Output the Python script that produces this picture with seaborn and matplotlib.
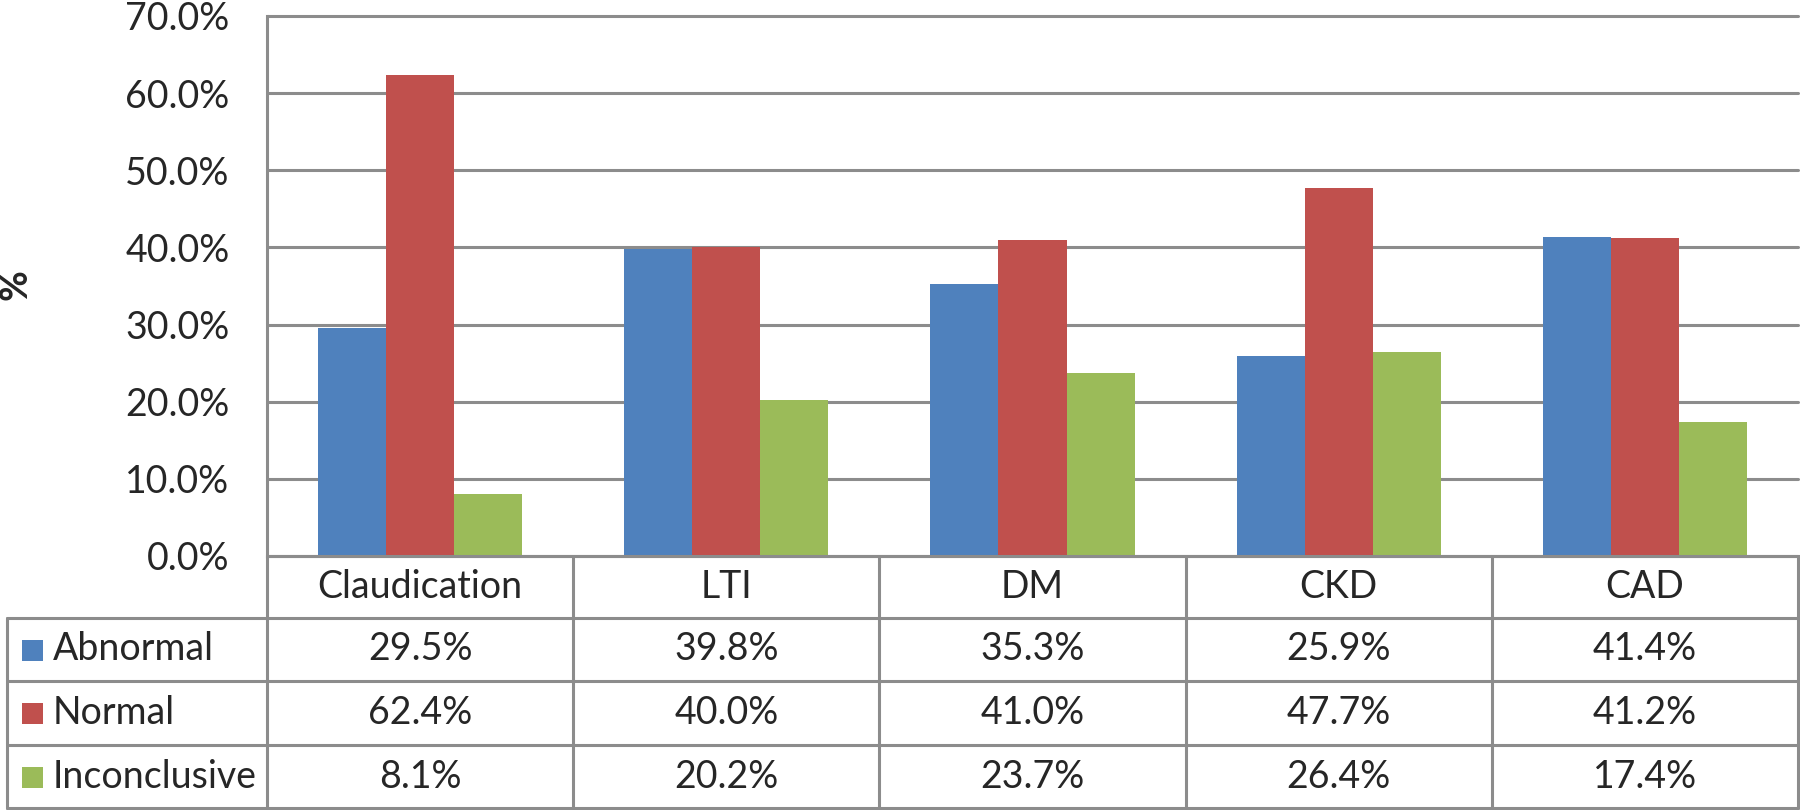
import pandas as pd
import matplotlib
matplotlib.use("Agg")
import matplotlib.pyplot as plt
import matplotlib.transforms as mtransforms
from matplotlib.lines import Line2D
from matplotlib.patches import Rectangle
import seaborn as sns

categories = ["Claudication", "LTI", "DM", "CKD", "CAD"]
series_names = ["Abnormal", "Normal", "Inconclusive"]
abnormal = [29.5, 39.8, 35.3, 25.9, 41.4]
normal = [62.4, 40.0, 41.0, 47.7, 41.2]
inconclusive = [8.1, 20.2, 23.7, 26.4, 17.4]
y_ticks = [0, 10, 20, 30, 40, 50, 60, 70]

colors = ["#4F81BD", "#C0504D", "#9BBB59"]
grid_col = "#8c8c8c"
fs = 27

sns.set_style("white")
plt.rcParams["font.family"] = ["Lato", "DejaVu Sans"]

df = pd.DataFrame({
    "category": categories * 3,
    "series": [s for s in series_names for _ in categories],
    "value": abnormal + normal + inconclusive,
})

W, H = 1800, 810
fig = plt.figure(figsize=(18, 8.1), dpi=100)

def fx(px):
    return px / W

def fy(py):
    return 1 - py / H

# plot area in pixels: left 267, right 1798, top 16 (70%), bottom 556 (0%)
ax = fig.add_axes([fx(267), fy(556), fx(1798 - 267), (556 - 16) / H])

sns.barplot(data=df, x="category", y="value", hue="series", order=categories,
            hue_order=series_names, palette=colors, saturation=1,
            width=2 / 3, gap=0, legend=False, linewidth=0, ax=ax)

ax.set_xlim(-0.5, len(categories) - 0.5)
ax.set_ylim(0, 70)
ax.set_yticks(y_ticks)
ax.set_yticklabels([f"{v:.1f}%" for v in y_ticks], fontsize=fs)
ax.set_xticks([])
ax.set_xlabel("")
ax.set_ylabel("")
ax.tick_params(axis="y", length=0, pad=27)
ax.yaxis.grid(True, color=grid_col, linewidth=2.2)
ax.set_axisbelow(True)
for side in ["top", "right"]:
    ax.spines[side].set_visible(False)
for side in ["left", "bottom"]:
    ax.spines[side].set_color(grid_col)
    ax.spines[side].set_linewidth(2.2)
for gl in ax.get_ygridlines():
    gl.set_clip_on(False)

fig.text(fx(16), fy(285), "%", rotation=90, fontsize=fs, fontweight="bold",
         ha="center", va="center")

# data table under the chart
blend = mtransforms.blended_transform_factory(ax.transData, fig.transFigure)
row_edges = [556, 618, 681, 745, 808]
line_kw = dict(color=grid_col, linewidth=2.2)

# column lines
fig.add_artist(Line2D([fx(267), fx(267)], [fy(556), fy(808)],
                      transform=fig.transFigure, **line_kw))
for i in range(len(categories)):
    xb = i + 0.5
    fig.add_artist(Line2D([xb, xb], [fy(556), fy(808)], transform=blend, **line_kw))
fig.add_artist(Line2D([fx(7), fx(7)], [fy(618), fy(808)],
                      transform=fig.transFigure, **line_kw))
# row lines
for r in row_edges[1:]:
    fig.add_artist(Line2D([fx(7), fx(1798)], [fy(r), fy(r)],
                          transform=fig.transFigure, **line_kw))

# header labels
hy = fy((row_edges[0] + row_edges[1]) / 2)
for i, c in enumerate(categories):
    fig.text(0, 0, c, fontsize=fs, ha="center", va="center",
             transform=blend).set_position((i, hy))

# value rows with legend keys
values = [abnormal, normal, inconclusive]
for k, (name, vals) in enumerate(zip(series_names, values)):
    cy = (row_edges[k + 1] + row_edges[k + 2]) / 2
    fig.add_artist(Rectangle((fx(22), fy(cy + 11)), fx(21), 21 / H,
                             transform=fig.transFigure, facecolor=colors[k],
                             edgecolor="none"))
    fig.text(fx(53), fy(cy), name, fontsize=fs, ha="left", va="center")
    for i, v in enumerate(vals):
        fig.text(0, 0, f"{v:.1f}%", fontsize=fs, ha="center", va="center",
                 transform=blend).set_position((i, fy(cy)))

fig.savefig("out.png", dpi=100)
